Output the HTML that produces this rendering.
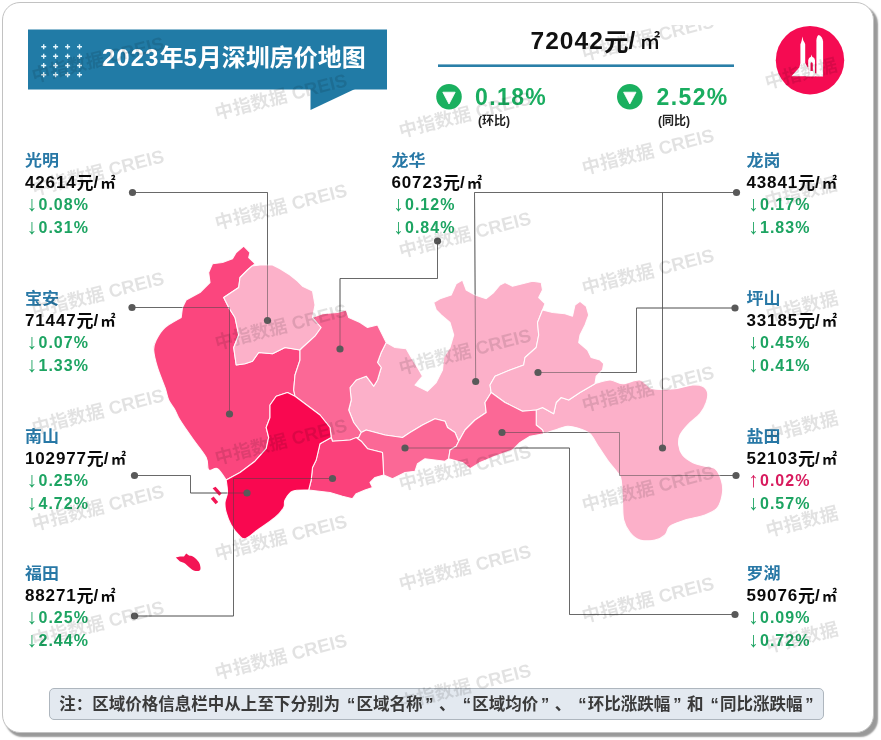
<!DOCTYPE html>
<html lang="zh-CN"><head><meta charset="utf-8"><title>2023年5月深圳房价地图</title>
<style>
html,body{margin:0;padding:0;background:#fff;}
body{width:881px;height:740px;position:relative;overflow:hidden;font-family:"Liberation Sans","Noto Sans CJK SC",sans-serif;}
.card{position:absolute;left:2px;top:2px;width:870px;height:729px;border:1.5px solid #c2c2c2;border-radius:18px;background:#fff;box-shadow:3.2px 4px 1.6px rgba(0,0,0,0.40);}
svg{position:absolute;left:0;top:0;}
.title{position:absolute;left:102px;top:39.5px;width:270px;height:36px;line-height:36px;font-size:24px;font-weight:bold;color:#fff;white-space:nowrap;letter-spacing:0px;}
.title .d{letter-spacing:1px;}
.avg{position:absolute;left:530.5px;top:23px;font-size:24.5px;font-weight:bold;color:#111;white-space:nowrap;line-height:36px;letter-spacing:1.05px;}
.avg .y{letter-spacing:0;position:relative;top:1.8px;}
.avg .m{font-size:20.5px;font-weight:500;letter-spacing:0;margin-left:3.5px;}
.big{position:absolute;top:80px;font-size:23px;font-weight:bold;color:#1AAD60;line-height:34px;white-space:nowrap;letter-spacing:1.4px;}
.sub{position:absolute;top:113px;font-size:12px;font-weight:bold;color:#222;line-height:16px;white-space:nowrap;}
.lb{position:absolute;white-space:nowrap;font-weight:bold;}
.lb .n{font-size:17px;line-height:22px;color:#2878A6;height:22px;position:relative;top:1.8px;transform:scaleY(0.93);transform-origin:0 50%;}
.lb .p{font-size:17px;line-height:22px;height:22px;color:#0a0a0a;letter-spacing:0.85px;margin-top:1.5px;margin-bottom:-0.5px;}
.lb .p .y{letter-spacing:0;position:relative;top:1px;}
.lb .p .m{font-size:15px;letter-spacing:0;font-weight:bold;margin-left:1.5px;}
.lb .c{font-size:16px;line-height:23px;height:23px;letter-spacing:1px;}
.lb .c .ar{font-weight:normal;letter-spacing:0;display:inline-block;width:13.5px;text-align:center;font-size:21px;line-height:23px;vertical-align:top;position:relative;top:-1px;}
.dn{color:#1DA462;}
.up{color:#D81B5E;}
.note{position:absolute;left:49px;top:687.5px;width:773px;height:30.5px;border:1px solid #aeb6be;border-radius:5px;background:#E3E9F0;font-size:16.52px;font-weight:bold;color:#3a3a3a;line-height:30px;white-space:nowrap;overflow:hidden;}
.note span{position:absolute;left:9.2px;top:1.5px;}
.note i{font-style:normal;display:inline-block;width:1em;box-sizing:border-box;}
.note .ql{text-align:right;padding-right:1.2px;}
.note .qr{text-align:left;padding-left:2.8px;}
.wmc{position:absolute;left:3px;top:25px;width:870.5px;height:708px;overflow:hidden;border-radius:0 0 17px 17px;pointer-events:none;}
.wm{position:absolute;width:150px;height:24px;line-height:24px;text-align:center;font-size:18.5px;font-weight:bold;color:rgba(0,0,0,0.115);transform:rotate(-14.4deg);white-space:nowrap;pointer-events:none;}
</style></head><body>
<div class="card"></div>
<svg width="881" height="740" viewBox="0 0 881 740">
<g id="banner">
<polygon points="310.5,89 355,89 310.5,110" fill="#2079A3"/>
<rect x="28" y="29.5" width="359" height="60" fill="#217BA6"/>
<g stroke="#e4f6fd" stroke-width="1.4" fill="none"><path d="M41.2,46.7h5M43.7,44.2v5"/><path d="M53.1,46.7h5M55.6,44.2v5"/><path d="M65.1,46.7h5M67.6,44.2v5"/><path d="M77.0,46.7h5M79.5,44.2v5"/><path d="M41.2,56.2h5M43.7,53.7v5"/><path d="M53.1,56.2h5M55.6,53.7v5"/><path d="M65.1,56.2h5M67.6,53.7v5"/><path d="M77.0,56.2h5M79.5,53.7v5"/><path d="M41.2,65.5h5M43.7,63.0v5"/><path d="M53.1,65.5h5M55.6,63.0v5"/><path d="M65.1,65.5h5M67.6,63.0v5"/><path d="M77.0,65.5h5M79.5,63.0v5"/><path d="M41.2,74.7h5M43.7,72.2v5"/><path d="M53.1,74.7h5M55.6,72.2v5"/><path d="M65.1,74.7h5M67.6,72.2v5"/><path d="M77.0,74.7h5M79.5,72.2v5"/></g>
</g>
<rect x="438" y="64.4" width="296" height="2.6" fill="#2A7FA8"/>
<g id="ind">
<circle cx="449" cy="96.8" r="12.8" fill="#1AB05F"/><polygon points="442.8,92.2 455.2,92.2 449,104" fill="#fff" stroke="#fff" stroke-width="0.8" stroke-linejoin="round"/>
<circle cx="629.8" cy="96.8" r="12.8" fill="#1AB05F"/><polygon points="623.6,92.2 636,92.2 629.8,104" fill="#fff" stroke="#fff" stroke-width="0.8" stroke-linejoin="round"/>
</g>
<g id="logo">
<circle cx="810" cy="60.2" r="34.2" fill="#F50B52"/>
<g fill="#fff" fill-rule="evenodd">
<path d="M802.4,36.6 L803.3,40.5 L804.5,42.6 L805.2,44.2 L805.2,63 L808.4,68.5 L808.4,76.3 L791.4,76.3 L799.3,67.5 L800.4,63 L800.4,44.2 L801.1,42.6 L801.7,40.5 Z"/>
<path d="M808.2,76.3 L808.2,60.2 Q808.5,57.2 811,56.7 L811.6,54.4 L812.2,56.7 Q814.8,57.2 815,60.2 L815,76.3 Z M810.6,71 L810.6,63.6 Q811.7,60.8 812.8,63.6 L812.8,71 Z"/>
<path d="M816.4,76.3 L816.4,40.5 Q816.7,36.2 818.6,35 Q822.2,36.2 823.1,41.5 L823.1,76.3 Z"/>
<rect x="806" y="73.3" width="17" height="3"/>
</g>
</g>
<g fill="none" stroke="#8e8e8e" stroke-width="1">
<polyline points="132.5,192.5 267.5,192.5 267.5,320.5"/>
<polyline points="132,307.5 229.5,307.5 229.5,414"/>
<polyline points="134.5,475.5 190.5,475.5 190.5,493 247,493"/>
<polyline points="134.5,616 233.5,616 233.5,478.5 332.5,478.5"/>
<polyline points="437.5,241 437.5,278.5 340,278.5 340,349"/>
<polyline points="736.5,192.5 474.5,192.5 475.7,381.5"/>
<polyline points="662.5,192.5 662.5,448"/>
<polyline points="735,308 636.5,308 636.5,372.5 538,372.5"/>
<polyline points="736,475.5 619.5,475.5 619.5,432.5 502,432.5"/>
<polyline points="735,614.5 569.5,614.5 569.5,448 405,448"/>
</g>
<g id="map" stroke="#fff" stroke-width="1.1" stroke-opacity="0.92" stroke-linejoin="round">
<path d="M595.0,383.7C597.5,383.1 605.4,380.0 610.0,380.0C614.6,380.0 617.5,383.7 622.5,383.7C627.5,383.7 635.0,379.2 640.0,380.0C645.0,380.8 646.7,387.2 652.5,388.7C658.3,390.1 668.3,389.3 675.0,388.7C681.7,388.1 687.9,385.4 692.5,385.0C697.1,384.6 700.0,384.9 702.5,386.2C705.0,387.4 706.9,389.8 707.5,392.5C708.1,395.2 707.5,399.0 706.2,402.5C705.0,406.0 703.1,409.9 700.0,413.7C696.9,417.4 690.8,421.4 687.5,425.0C684.2,428.6 681.5,431.7 680.0,435.0C678.5,438.3 678.3,441.7 678.7,445.0C679.1,448.3 680.2,452.1 682.5,455.0C684.8,457.9 688.8,460.6 692.5,462.5C696.2,464.4 701.2,465.2 705.0,466.2C708.8,467.2 712.3,466.4 715.0,468.7C717.7,471.0 720.0,476.0 721.2,480.0C722.5,484.0 723.1,487.9 722.5,492.5C721.9,497.1 720.4,503.8 717.5,507.5C714.6,511.2 710.4,512.9 705.0,515.0C699.6,517.1 690.8,518.1 685.0,520.0C679.2,521.9 673.3,523.7 670.0,526.2C666.7,528.7 667.5,532.7 665.0,535.0C662.5,537.3 659.2,539.2 655.0,540.0C650.8,540.8 644.2,541.2 640.0,540.0C635.8,538.8 632.7,535.8 630.0,532.5C627.3,529.2 625.0,525.4 623.7,520.0C622.5,514.6 622.9,506.7 622.5,500.0C622.1,493.3 622.0,484.6 621.2,480.0C620.4,475.4 619.8,475.8 617.5,472.5C615.2,469.2 610.8,464.6 607.5,460.0C604.2,455.4 600.4,449.4 597.5,445.0C594.6,440.6 592.9,436.4 590.0,433.7C587.1,431.0 583.8,429.9 580.0,428.7C576.2,427.4 571.7,426.0 567.5,426.2C563.3,426.4 559.0,428.8 555.0,430.0C551.0,431.2 545.6,433.1 543.7,433.7L542.5,430.0L536.2,425.0L536.2,410.0L542.5,407.5L553.7,413.7L556.2,402.5L561.2,397.5L568.7,400.0L580.0,392.5Z" fill="#FCB0C9"/>
<polygon points="386.2,342.5 395,347.5 406.2,348.7 411.2,357.5 417.5,367.5 422.5,376.2 415,385 427.5,391.2 436.2,382.5 442.5,370 443.7,357.5 450,347.5 453.7,335 450,322.5 441.2,315 436.2,310 433.7,302.5 440,298.7 451.2,295 456.2,283.7 462.5,280 466.2,290 475,295 486.2,298.7 493.7,292.5 500,285 505,282.5 512.5,286.2 522.5,283.7 532.5,281.2 541.2,282.5 542.5,290 538.7,297.5 545,303.7 542.5,310 537.5,322.5 538.7,335 536.2,347.5 525,357.5 523.7,365 510,370 495,376.2 490,385 491.2,392.5 485,402.5 486.2,412.5 475,420 465,430 458.7,441.2 455,432.5 447.5,427.5 445,421.2 435,418.7 422.5,425 410,432.5 402.5,437.5 385,435 366.2,430 361.2,432.5 353.7,422.5 348.7,410 351.2,400 350,387.5 356.2,380 366.2,376.2 373.7,386.2 377.5,380 381.2,367.5 377.5,362.5 381.2,352.5" fill="#FCB0C9"/>
<polygon points="542.5,310 552.5,312.5 565,313.7 572.5,316.2 575,305 580,301.2 586.2,306.2 588.7,315 585,325 580,335 578.7,342.5 587.5,350 591.2,357.5 600,360 603.7,363.7 602.5,370 596.2,376.2 595,383.7 580,392.5 568.7,400 561.2,397.5 556.2,402.5 553.7,413.7 542.5,407.5 536.2,410 522.5,411.2 505,402.5 491.2,392.5 490,385 495,376.2 510,370 523.7,365 525,357.5 536.2,347.5 538.7,335 537.5,322.5" fill="#FCB0C9"/>
<path d="M243.7,246.2L250.0,252.5L248.7,257.5L255.0,263.7L247.5,270.0L240.0,277.5L238.7,287.5L223.7,297.5L228.7,307.5L235.0,317.5L238.7,335.0L233.7,347.5L236.2,365.0L245.0,363.7L252.5,361.2L258.7,352.5L272.5,353.7L285.0,347.5L300.0,350.0L300.0,360.0L295.0,375.0L293.7,390.0L295.0,396.2L287.5,392.5L276.2,396.2L270.0,405.0L270.0,417.5L266.2,427.5L268.7,437.5L266.2,448.7L255.0,461.2L240.0,472.5L226.2,480.0C224.8,478.1 220.4,470.4 217.5,468.7C214.6,467.0 210.6,471.9 208.7,470.0C206.8,468.1 208.7,462.5 206.2,457.5C203.7,452.5 198.1,446.2 193.7,440.0C189.3,433.8 183.1,425.0 180.0,420.0C176.9,415.0 176.9,413.3 175.0,410.0C173.1,406.7 170.4,403.8 168.7,400.0C167.0,396.2 166.9,392.9 165.0,387.5C163.1,382.1 159.4,373.8 157.5,367.5C155.6,361.2 153.9,354.6 153.7,350.0C153.5,345.4 154.3,343.8 156.2,340.0C158.1,336.2 160.8,331.2 165.0,327.5C169.2,323.8 178.5,319.2 181.2,317.5L182.5,307.5L186.2,300.0L200.0,292.5L210.0,282.5L208.7,272.5L212.5,263.7L222.5,262.5L232.5,258.7L236.2,252.5Z" fill="#FB467E"/>
<polygon points="252,266 260,265 272.5,265 280,268.7 290,275 297.5,281.2 302.5,286.2 312.5,291 315,305 312.5,317.5 321.2,327.5 315,336.2 302.5,347.5 300,350 285,347.5 272.5,353.7 258.7,352.5 252.5,361.2 245,363.7 236.2,365 233.7,347.5 238.7,335 235,317.5 228.7,307.5 223.7,297.5 238.7,287.5 240,277.5 247.5,270" fill="#FCB1C9"/>
<polygon points="312.5,317.5 322.5,313.7 337.5,312.5 346.2,310 348.7,317.5 360,322.5 367.5,327.5 377.5,325 382.5,335 386.2,342.5 381.2,352.5 377.5,362.5 381.2,367.5 377.5,380 373.7,386.2 366.2,376.2 356.2,380 350,387.5 351.2,400 348.7,410 353.7,422.5 361.2,432.5 358.7,437.5 350,440 332.5,441.2 331.2,437.5 330,427.5 320,415 310,407.5 295,396.2 293.7,390 295,375 300,360 300,350 302.5,347.5 315,336.2 321.2,327.5" fill="#FB6896"/>
<polygon points="358.7,437.5 361.2,432.5 366.2,430 385,435 402.5,437.5 410,432.5 422.5,425 435,418.7 445,421.2 447.5,427.5 455,432.5 458.7,441.2 456.2,446.2 450,450 448.7,458.7 445,461.2 435,460 425,458.7 417.5,463.7 415,471.2 405,472.5 392.5,478.7 383.7,475 382.5,452.5 367.5,448.7 361.2,441.2 356.2,437.5" fill="#FB6896"/>
<polygon points="458.7,441.2 465,430 475,420 486.2,412.5 485,402.5 491.2,392.5 505,402.5 522.5,411.2 536.2,410 536.2,425 542.5,430 543.7,433.7 530,436.2 520,442.5 512.5,450 495,456.2 480,462.5 470,468.7 462.5,462.5 448.7,458.7 450,450 456.2,446.2" fill="#FB6896"/>
<polygon points="320,443.7 331.2,437.5 332.5,441.2 350,440 356.2,437.5 361.2,441.2 367.5,448.7 382.5,452.5 383.7,475 375,477.5 370,482.5 372.5,487.5 365,490 356.2,493.7 352.5,498.7 342.5,496.2 330,492.5 308.7,490 311.2,480 312.5,467.5 316.2,460" fill="#FB417B"/>
<path d="M295.0,396.2L310.0,407.5L320.0,415.0L330.0,427.5L331.2,437.5L320.0,443.7L316.2,460.0L312.5,467.5L311.2,480.0L308.7,490.0C306.0,490.2 296.4,489.5 292.5,491.2C288.6,492.9 286.5,497.3 285.0,500.0C283.5,502.7 285.4,504.6 283.7,507.5C282.0,510.4 279.4,513.8 275.0,517.5C270.6,521.2 262.5,526.5 257.5,530.0C252.5,533.5 248.1,537.9 245.0,538.7C241.9,539.5 241.0,537.3 238.7,535.0C236.4,532.7 233.3,528.8 231.2,525.0C229.1,521.2 227.2,516.2 226.2,512.5C225.2,508.8 224.8,505.8 225.0,502.5C225.2,499.2 227.3,496.2 227.5,492.5C227.7,488.8 226.4,482.1 226.2,480.0L240.0,472.5L255.0,461.2L266.2,448.7L268.7,437.5L266.2,427.5L270.0,417.5L270.0,405.0L276.2,396.2L287.5,392.5Z" fill="#F90850"/>
<polygon points="212.6,488.3 215.6,486.8 221.6,493.4 219.2,495.8" fill="#F31555" stroke="none"/>
<polygon points="210.8,498.8 213.6,496.6 218.2,502 215.6,504.2" fill="#F31555" stroke="none"/>
<path d="M175.8,557.6L180.0,556.6L184.0,556.4L186.2,553.4L189.0,555.6C189.8,555.8 192.1,555.9 193.7,557.0C195.3,558.1 197.6,560.3 198.7,562.0C199.8,563.7 200.2,565.6 200.4,567.0C200.6,568.4 200.6,570.0 199.6,570.6C198.6,571.2 196.2,571.3 194.5,570.8C192.8,570.3 191.1,568.7 189.5,567.5C187.9,566.3 186.6,564.4 185.0,563.4C183.4,562.4 180.8,561.7 180.0,561.4Z" fill="#F31555" stroke="none"/>
</g>
<g fill="none" stroke="#444" stroke-opacity="0.5" stroke-width="1">
<polyline points="132.5,192.5 267.5,192.5 267.5,320.5"/>
<polyline points="132,307.5 229.5,307.5 229.5,414"/>
<polyline points="134.5,475.5 190.5,475.5 190.5,493 247,493"/>
<polyline points="134.5,616 233.5,616 233.5,478.5 332.5,478.5"/>
<polyline points="437.5,241 437.5,278.5 340,278.5 340,349"/>
<polyline points="736.5,192.5 474.5,192.5 475.7,381.5"/>
<polyline points="662.5,192.5 662.5,448"/>
<polyline points="735,308 636.5,308 636.5,372.5 538,372.5"/>
<polyline points="736,475.5 619.5,475.5 619.5,432.5 502,432.5"/>
<polyline points="735,614.5 569.5,614.5 569.5,448 405,448"/>
</g>
<g fill="#595959">
<circle cx="132.5" cy="192.5" r="3.6"/>
<circle cx="267.5" cy="320.5" r="3.6"/>
<circle cx="132" cy="307.5" r="3.6"/>
<circle cx="229.5" cy="414" r="3.6"/>
<circle cx="134.5" cy="475.5" r="3.6"/>
<circle cx="247" cy="493" r="3.6"/>
<circle cx="134.5" cy="616" r="3.6"/>
<circle cx="332.5" cy="478.5" r="3.6"/>
<circle cx="437.5" cy="241" r="3.6"/>
<circle cx="340" cy="349" r="3.6"/>
<circle cx="736.5" cy="192.5" r="3.6"/>
<circle cx="475.7" cy="381.5" r="3.6"/>
<circle cx="662.5" cy="448" r="3.6"/>
<circle cx="735" cy="308" r="3.6"/>
<circle cx="538" cy="372.5" r="3.6"/>
<circle cx="736" cy="475.5" r="3.6"/>
<circle cx="502" cy="432.5" r="3.6"/>
<circle cx="735" cy="614.5" r="3.6"/>
<circle cx="405" cy="448" r="3.6"/>
</g>
</svg>
<div class="title"><span class="d">2023</span>年<span class="d">5</span>月深圳房价地图</div>
<div class="avg">72042<span class="y">元</span>/<span class="m">㎡</span></div>
<div class="big" style="left:475px">0.18%</div><div class="sub" style="left:478px">(环比)</div>
<div class="big" style="left:656.5px">2.52%</div><div class="sub" style="left:658px">(同比)</div>
<div class="lb" style="left:25px;top:148px"><div class="n">光明</div><div class="p">42614<span class="y">元</span>/<span class="m">㎡</span></div><div class="c dn"><span class="ar">↓</span>0.08%</div><div class="c dn"><span class="ar">↓</span>0.31%</div></div>
<div class="lb" style="left:25px;top:286px"><div class="n">宝安</div><div class="p">71447<span class="y">元</span>/<span class="m">㎡</span></div><div class="c dn"><span class="ar">↓</span>0.07%</div><div class="c dn"><span class="ar">↓</span>1.33%</div></div>
<div class="lb" style="left:25px;top:424px"><div class="n">南山</div><div class="p">102977<span class="y">元</span>/<span class="m">㎡</span></div><div class="c dn"><span class="ar">↓</span>0.25%</div><div class="c dn"><span class="ar">↓</span>4.72%</div></div>
<div class="lb" style="left:25px;top:561px"><div class="n">福田</div><div class="p">88271<span class="y">元</span>/<span class="m">㎡</span></div><div class="c dn"><span class="ar">↓</span>0.25%</div><div class="c dn"><span class="ar">↓</span>2.44%</div></div>
<div class="lb" style="left:391.5px;top:148px"><div class="n">龙华</div><div class="p">60723<span class="y">元</span>/<span class="m">㎡</span></div><div class="c dn"><span class="ar">↓</span>0.12%</div><div class="c dn"><span class="ar">↓</span>0.84%</div></div>
<div class="lb" style="left:746.5px;top:148px"><div class="n">龙岗</div><div class="p">43841<span class="y">元</span>/<span class="m">㎡</span></div><div class="c dn"><span class="ar">↓</span>0.17%</div><div class="c dn"><span class="ar">↓</span>1.83%</div></div>
<div class="lb" style="left:746.5px;top:286px"><div class="n">坪山</div><div class="p">33185<span class="y">元</span>/<span class="m">㎡</span></div><div class="c dn"><span class="ar">↓</span>0.45%</div><div class="c dn"><span class="ar">↓</span>0.41%</div></div>
<div class="lb" style="left:746.5px;top:424px"><div class="n">盐田</div><div class="p">52103<span class="y">元</span>/<span class="m">㎡</span></div><div class="c up"><span class="ar">↑</span>0.02%</div><div class="c dn"><span class="ar">↓</span>0.57%</div></div>
<div class="lb" style="left:746.5px;top:561px"><div class="n">罗湖</div><div class="p">59076<span class="y">元</span>/<span class="m">㎡</span></div><div class="c dn"><span class="ar">↓</span>0.09%</div><div class="c dn"><span class="ar">↓</span>0.72%</div></div>

<div class="note"><span>注：区域价格信息栏中从上至下分别为<i class="ql">“</i>区域名称<i class="qr">”</i>、<i class="ql">“</i>区域均价<i class="qr">”</i>、<i class="ql">“</i>环比涨跌幅<i class="qr">”</i>和<i class="ql">“</i>同比涨跌幅<i class="qr">”</i></span></div>
<div class="wmc">
<div class="wm" style="left:20px;top:23px">中指数据 CREIS</div>
<div class="wm" style="left:20px;top:136px">中指数据 CREIS</div>
<div class="wm" style="left:20px;top:258px">中指数据 CREIS</div>
<div class="wm" style="left:20px;top:375px">中指数据 CREIS</div>
<div class="wm" style="left:20px;top:471px">中指数据 CREIS</div>
<div class="wm" style="left:20px;top:587px">中指数据 CREIS</div>
<div class="wm" style="left:203px;top:60px">中指数据 CREIS</div>
<div class="wm" style="left:203px;top:170px">中指数据 CREIS</div>
<div class="wm" style="left:203px;top:290px">中指数据 CREIS</div>
<div class="wm" style="left:203px;top:405px">中指数据 CREIS</div>
<div class="wm" style="left:203px;top:501px">中指数据 CREIS</div>
<div class="wm" style="left:203px;top:620px">中指数据 CREIS</div>
<div class="wm" style="left:387px;top:78px">中指数据 CREIS</div>
<div class="wm" style="left:387px;top:198px">中指数据 CREIS</div>
<div class="wm" style="left:387px;top:315px">中指数据 CREIS</div>
<div class="wm" style="left:387px;top:431px">中指数据 CREIS</div>
<div class="wm" style="left:387px;top:531px">中指数据 CREIS</div>
<div class="wm" style="left:387px;top:650px">中指数据 CREIS</div>
<div class="wm" style="left:570px;top:1px">中指数据 CREIS</div>
<div class="wm" style="left:570px;top:115px">中指数据 CREIS</div>
<div class="wm" style="left:570px;top:235px">中指数据 CREIS</div>
<div class="wm" style="left:570px;top:352px">中指数据 CREIS</div>
<div class="wm" style="left:570px;top:452px">中指数据 CREIS</div>
<div class="wm" style="left:570px;top:563px">中指数据 CREIS</div>
<div class="wm" style="left:723px;top:37px">中指数据</div>
<div class="wm" style="left:723px;top:156px">中指数据</div>
<div class="wm" style="left:724px;top:270px">中指数据</div>
<div class="wm" style="left:724px;top:390px">中指数据</div>
<div class="wm" style="left:724px;top:485px">中指数据</div>
<div class="wm" style="left:724px;top:601px">中指数据</div>
</div>
</body></html>
